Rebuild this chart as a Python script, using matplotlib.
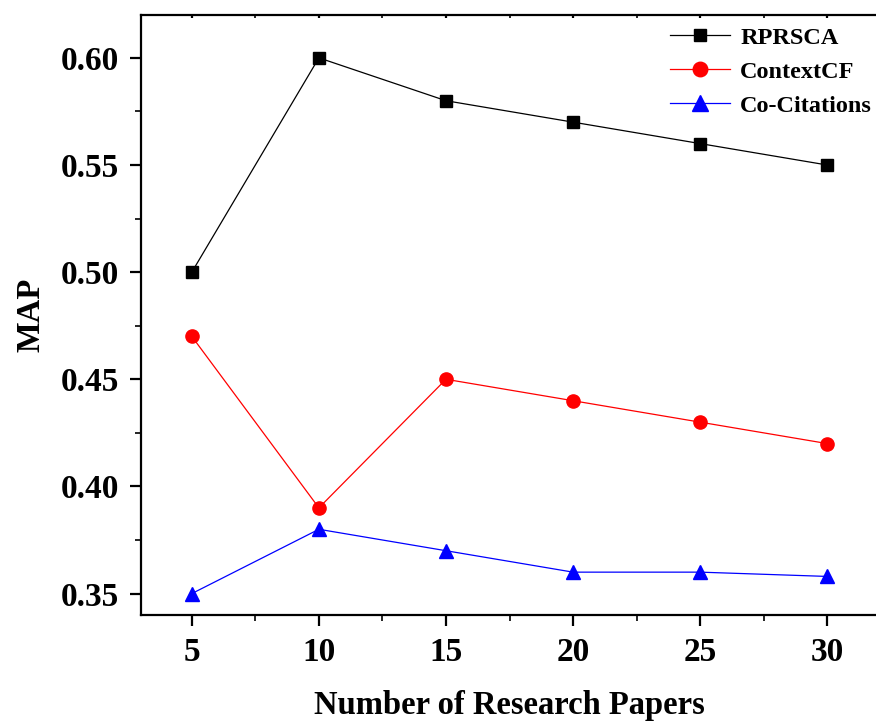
import matplotlib
matplotlib.use("Agg")
import matplotlib.pyplot as plt
from matplotlib.ticker import MultipleLocator

x = [5, 10, 15, 20, 25, 30]
rprsca = [0.50, 0.60, 0.58, 0.57, 0.56, 0.55]
contextcf = [0.47, 0.39, 0.45, 0.44, 0.43, 0.42]
cocitations = [0.35, 0.38, 0.37, 0.36, 0.36, 0.358]
xticks = [5, 10, 15, 20, 25, 30]
yticks = [0.35, 0.40, 0.45, 0.50, 0.55, 0.60]

plt.rcParams['font.family'] = ['Liberation Serif', 'DejaVu Serif']
plt.rcParams['font.weight'] = 'bold'

fig = plt.figure(figsize=(8.76, 7.22), dpi=100)
ax = fig.add_axes([141/876, 107/722, 737/876, 600/722])

ax.plot(x, rprsca, color='black', lw=0.9, marker='s', ms=8.5, label='RPRSCA')
ax.plot(x, contextcf, color='red', lw=0.9, marker='o', ms=9.5, label='ContextCF')
ax.plot(x, cocitations, color='blue', lw=0.9, marker='^', ms=10, label='Co-Citations')

ax.set_xlim(3, 32)
ax.set_ylim(0.34, 0.62)
ax.set_xticks(xticks)
ax.set_yticks(yticks)
ax.set_yticklabels([f"{v:.2f}" for v in yticks])
ax.xaxis.set_minor_locator(MultipleLocator(2.5))
ax.yaxis.set_minor_locator(MultipleLocator(0.025))

for s in ax.spines.values():
    s.set_linewidth(1.6)

ax.tick_params(axis='both', which='major', direction='out', length=8, width=1.6,
               labelsize=24, pad=8)
ax.tick_params(axis='both', which='minor', direction='out', length=4, width=1.2)
ax.tick_params(top=True, right=True, which='both')
for t in ax.xaxis.get_major_ticks() + ax.xaxis.get_minor_ticks():
    t.tick2line.set_markersize(2)
    t.tick2line.set_marker(3)
for t in ax.yaxis.get_major_ticks() + ax.yaxis.get_minor_ticks():
    t.tick2line.set_markersize(2)
    t.tick2line.set_marker(1)
for lab in ax.get_xticklabels() + ax.get_yticklabels():
    lab.set_fontweight('bold')

ax.set_xlabel('Number of Research Papers', fontsize=23.5, fontweight='bold', labelpad=16)
ax.set_ylabel('MAP', fontsize=23.5, fontweight='bold', labelpad=10)

leg = ax.legend(loc='upper right', frameon=False, fontsize=17.5, handlelength=2.5,
                handletextpad=0.4, labelspacing=0.5, borderaxespad=0.0,
                markerscale=1.1, bbox_to_anchor=(1.005, 0.997))
for t in leg.get_texts():
    t.set_fontweight('bold')

fig.savefig('out.png', dpi=100)
